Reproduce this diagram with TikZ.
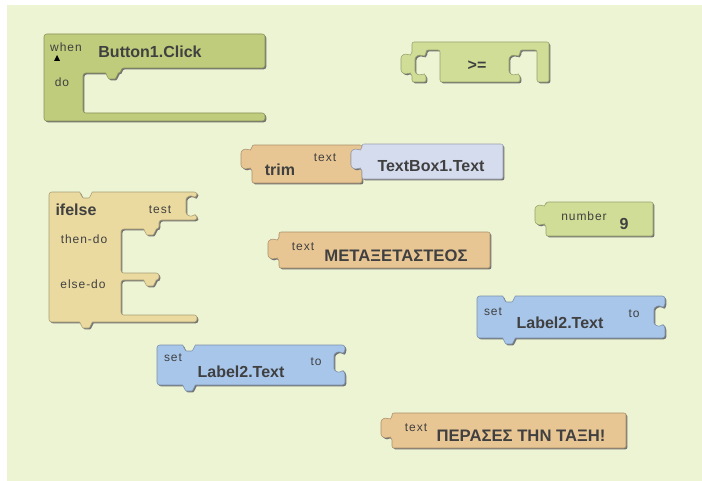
\documentclass[tikz,border=0pt]{standalone}
\usepackage{fontspec}
\setmainfont{Liberation Sans}
\newfontfamily\lblfont[LetterSpace=8]{Liberation Sans}
\definecolor{panel}{RGB}{237,244,212}
\definecolor{grn}{RGB}{190,204,124}
\definecolor{grnlt}{RGB}{208,221,150}
\definecolor{tan}{RGB}{232,198,148}
\definecolor{beige}{RGB}{234,218,160}
\definecolor{lav}{RGB}{212,220,238}
\definecolor{blu}{RGB}{168,198,234}
\definecolor{ink}{RGB}{64,64,64}
\tikzset{
  blk/.style={fill=#1, draw=#1!72!black, line width=0.4pt, line join=round,
    preaction={fill=black!55, transform canvas={xshift=1pt,yshift=-1pt}}},
  lblbig/.style={font=\bfseries\fontsize{12}{14}\selectfont, text=ink, inner sep=0pt},
  lblsmall/.style={font=\lblfont\fontsize{9}{11}\selectfont, text=ink, inner sep=0pt}
}
\begin{document}
\begin{tikzpicture}[x=0.75pt,y=-0.75pt]
\useasboundingbox (0,0) rectangle (702,481);
\fill[white] (0,0) rectangle (702,481);
\fill[panel] (7,5) rectangle (702,481);

% when Button1.Click
\path[blk=grn, rounded corners=2pt] (44,34) -- (265,34) -- (265,68) -- (121,68) -- (121,73)
  .. controls +(-3,0) and +(4,0) .. ++(-9,6) .. controls +(-4,0) and +(3,0) .. ++(-9,-6)
  -- (83,73) -- (83,113) -- (265,113) -- (265,121) -- (44,121) -- cycle;
\fill[black] (54,61) -- (60,61) -- (57,55) -- cycle;
\node[lblsmall] (when) at (66,47) {when};
\node[lblbig] (click) at (150,52) {Button1.Click};
\node[lblsmall] (do) at (62,82) {do};

% >=
\path[blk=grnlt, rounded corners=1.5pt] (412,42) -- (549,42) -- (549,82) -- (537,82) -- (537,50) -- (520,50) -- (520,55)
  -- ++(-3,2) .. controls +(-3,-3) and +(0,-5) .. ++(-8,4) -- ++(0,8) .. controls +(0,5) and +(-3,3) .. ++(8,4) -- ++(3,2)
  -- (520,82) -- (440,82) -- (440,50) -- (426,50) -- (426,55)
  -- ++(-3,2) .. controls +(-3,-3) and +(0,-5) .. ++(-8,4) -- ++(0,8) .. controls +(0,5) and +(-3,3) .. ++(8,4) -- ++(3,2)
  -- (426,82) -- (412,82) -- (412,74)
  -- ++(-3,-2) .. controls +(-3,3) and +(0,5) .. ++(-8,-4) -- ++(0,-8) .. controls +(0,-5) and +(-3,-3) .. ++(8,-4) -- ++(3,-2)
  -- cycle;
\node[lblbig] (geq) at (477,66) {>=};

% trim / TextBox1.Text
\path[blk=tan, rounded corners=1.5pt] (252,145) -- (362,145) -- (362,149)
  -- ++(-3,2) .. controls +(-3,-3) and +(0,-5) .. ++(-8,4) -- ++(0,8) .. controls +(0,5) and +(-3,3) .. ++(8,4) -- ++(3,2)
  -- (362,183) -- (252,183) -- (252,169)
  -- ++(-3,-2) .. controls +(-3,3) and +(0,5) .. ++(-8,-4) -- ++(0,-8) .. controls +(0,-5) and +(-3,-3) .. ++(8,-4) -- ++(3,-2)
  -- cycle;
\path[blk=lav, rounded corners=1.5pt] (362,144) -- (503,144) -- (503,179) -- (362,179) -- (362,169)
  -- ++(-3,-2) .. controls +(-3,3) and +(0,5) .. ++(-8,-4) -- ++(0,-8) .. controls +(0,-5) and +(-3,-3) .. ++(8,-4) -- ++(3,-2)
  -- cycle;
\node[lblbig] (trim) at (280,170) {trim};
\node[lblsmall] (trimtext) at (325,158) {text};
\node[lblbig] (textbox) at (431,166) {TextBox1.Text};

% ifelse
\path[blk=beige, rounded corners=2pt] (49,192) -- (77,192)
  .. controls +(3,0) and +(-4,0) .. ++(9,6) .. controls +(4,0) and +(-3,0) .. ++(9,-6)
  -- (197,192) -- (197,196)
  -- ++(-3,2) .. controls +(-3,-3) and +(0,-5) .. ++(-8,4) -- ++(0,8) .. controls +(0,5) and +(-3,3) .. ++(8,4) -- ++(3,2)
  -- (197,220) -- (159,220) -- (159,229)
  .. controls +(-3,0) and +(4,0) .. ++(-9,6) .. controls +(-4,0) and +(3,0) .. ++(-9,-6)
  -- (121,229) -- (121,273) -- (159,273) -- (159,280)
  .. controls +(-3,0) and +(4,0) .. ++(-9,6) .. controls +(-4,0) and +(3,0) .. ++(-9,-6)
  -- (121,280) -- (121,315) -- (197,315) -- (197,322) -- (95,322)
  .. controls +(-3,0) and +(4,0) .. ++(-9,6) .. controls +(-4,0) and +(3,0) .. ++(-9,-6)
  -- (49,322) -- cycle;
\node[lblbig] (ifelse) at (76,210) {ifelse};
\node[lblsmall] (test) at (160,210) {test};
\node[lblsmall] (thendo) at (84,239) {then-do};
\node[lblsmall] (elsedo) at (83,284) {else-do};

% text METAXETASTEOS
\path[blk=tan, rounded corners=1.5pt] (279,232) -- (490,232) -- (490,268) -- (279,268) -- (279,259)
  -- ++(-3,-2) .. controls +(-3,3) and +(0,5) .. ++(-8,-4) -- ++(0,-8) .. controls +(0,-5) and +(-3,-3) .. ++(8,-4) -- ++(3,-2)
  -- cycle;
\node[lblsmall] (txtA) at (303,247) {text};
\node[lblbig, font=\bfseries\fontsize{12.5}{14}\selectfont] (wordA) at (396,256) {ΜΕΤΑΞΕΤΑΣΤΕΟΣ};

% number 9
\path[blk=grnlt, rounded corners=1.5pt] (546,202) -- (653,202) -- (653,236) -- (546,236) -- (546,225)
  -- ++(-3,-2) .. controls +(-3,3) and +(0,5) .. ++(-8,-4) -- ++(0,-8) .. controls +(0,-5) and +(-3,-3) .. ++(8,-4) -- ++(3,-2)
  -- cycle;
\node[lblsmall] (number) at (584,216) {number};
\node[lblbig] (nine) at (624,224) {9};

% set Label2.Text (right)
\path[blk=blu, rounded corners=2pt] (477,296) -- (500,296)
  .. controls +(3,0) and +(-4,0) .. ++(9,6) .. controls +(4,0) and +(-3,0) .. ++(9,-6)
  -- (665,296) -- (665,306)
  -- ++(-3,2) .. controls +(-3,-3) and +(0,-5) .. ++(-8,4) -- ++(0,8) .. controls +(0,5) and +(-3,3) .. ++(8,4) -- ++(3,2)
  -- (665,338) -- (518,338)
  .. controls +(-3,0) and +(4,0) .. ++(-9,6) .. controls +(-4,0) and +(3,0) .. ++(-9,-6)
  -- (477,338) -- cycle;
\node[lblsmall] (setB) at (493,312) {set};
\node[lblbig] (labelB) at (560,323) {Label2.Text};
\node[lblsmall] (toB) at (634,314) {to};

% set Label2.Text (left)
\path[blk=blu, rounded corners=2pt] (157,345) -- (180,345)
  .. controls +(3,0) and +(-4,0) .. ++(9,6) .. controls +(4,0) and +(-3,0) .. ++(9,-6)
  -- (345,345) -- (345,352)
  -- ++(-3,2) .. controls +(-3,-3) and +(0,-5) .. ++(-8,4) -- ++(0,8) .. controls +(0,5) and +(-3,3) .. ++(8,4) -- ++(3,2)
  -- (345,385) -- (198,385)
  .. controls +(-3,0) and +(4,0) .. ++(-9,6) .. controls +(-4,0) and +(3,0) .. ++(-9,-6)
  -- (157,385) -- cycle;
\node[lblsmall] (setA) at (173,358) {set};
\node[lblbig] (labelA) at (241,372) {Label2.Text};
\node[lblsmall] (toA) at (316,362) {to};

% text PERASES THN TAXH!
\path[blk=tan, rounded corners=1.5pt] (392,413) -- (626,413) -- (626,448) -- (392,448) -- (392,438)
  -- ++(-3,-2) .. controls +(-3,3) and +(0,5) .. ++(-8,-4) -- ++(0,-8) .. controls +(0,-5) and +(-3,-3) .. ++(8,-4) -- ++(3,-2)
  -- cycle;
\node[lblsmall] (txtB) at (416,428) {text};
\node[lblbig, font=\bfseries\fontsize{12.5}{14}\selectfont] (wordB) at (521,436) {ΠΕΡΑΣΕΣ ΤΗΝ ΤΑΞΗ!};
\end{tikzpicture}
\end{document}
